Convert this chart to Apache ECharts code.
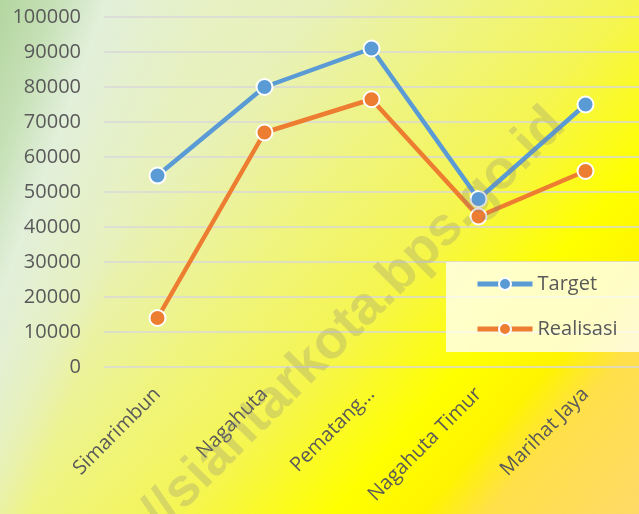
<!DOCTYPE html>
<html>
<head>
<meta charset="utf-8">
<title>Target vs Realisasi</title>
<script src="https://cdn.jsdelivr.net/npm/echarts@6/dist/echarts.min.js"></script>
<style>
  html, body { margin: 0; padding: 0; }
  #main { width: 639px; height: 514px; }
</style>
</head>
<body>
<div id="main"></div>
<script>
// data
var kelurahan = ["Simarimbun", "Nagahuta", "Pematang…", "Nagahuta Timur", "Marihat Jaya"];
var target = [54700, 80000, 91000, 48000, 75000];
var realisasi = [14000, 67000, 76500, 43000, 56000];
var yTicks = { min: 0, max: 100000, step: 10000 };

var labelFont = "'Open Sans', 'Noto Sans', sans-serif";
var textGrey = "#595959";

var chartDom = document.getElementById("main");
var myChart = echarts.init(chartDom);

var option = {
  animation: false,
  graphic: [
    {
      // base fill: light -> yellow -> orange, running to the bottom right
      type: "rect",
      z: -20,
      silent: true,
      shape: { x: 0, y: 0, width: 639, height: 514 },
      style: {
        fill: new echarts.graphic.LinearGradient(0, 0, 615, 541, [
          { offset: 0, color: "#e4f0d8" },
          { offset: 0.3, color: "#e8f1b8" },
          { offset: 0.45, color: "#eff47e" },
          { offset: 0.58, color: "#f5f552" },
          { offset: 0.72, color: "#ffff00" },
          { offset: 0.8, color: "#fff400" },
          { offset: 0.86, color: "#ffe04a" },
          { offset: 1, color: "#ffd966" }
        ], true)
      }
    },
    {
      // green patch down the top left edge
      type: "rect",
      z: -19,
      silent: true,
      shape: { x: 0, y: 0, width: 639, height: 514 },
      style: {
        fill: new echarts.graphic.LinearGradient(0, 0, 188, 67, [
          { offset: 0, color: "rgba(179,214,159,1)" },
          { offset: 0.25, color: "rgba(197,224,181,1)" },
          { offset: 0.5, color: "rgba(226,239,218,1)" },
          { offset: 0.75, color: "rgba(228,240,210,0.6)" },
          { offset: 1, color: "rgba(228,240,210,0)" }
        ], true)
      }
    },
    {
      // site watermark lying over the chart
      type: "text",
      z: 100,
      silent: true,
      x: 576,
      y: 136,
      rotation: 0.785,
      style: {
        text: "http://siantarkota.bps.go.id",
        font: "bold 54px 'Liberation Sans', Arial, sans-serif",
        fill: "rgba(128,128,128,0.25)",
        align: "right",
        verticalAlign: "bottom"
      }
    }
  ],
  grid: {
    left: 104,
    top: 17,
    width: 540,
    height: 350
  },
  legend: {
    orient: "vertical",
    left: 446,
    top: 262,
    padding: [12, 30, 13, 29],
    itemGap: 25,
    itemWidth: 55,
    itemHeight: 15,
    lineStyle: { width: 5 },
    backgroundColor: "rgba(255,255,240,0.82)",
    textStyle: {
      fontFamily: labelFont,
      fontSize: 20,
      lineHeight: 20,
      color: textGrey
    },
    data: ["Target", "Realisasi"]
  },
  xAxis: {
    type: "category",
    data: kelurahan,
    axisLine: { show: false },
    axisTick: { show: false },
    axisLabel: {
      interval: 0,
      rotate: 45,
      margin: 24,
      fontFamily: labelFont,
      fontSize: 20,
      color: textGrey
    }
  },
  yAxis: {
    type: "value",
    min: yTicks.min,
    max: yTicks.max,
    interval: yTicks.step,
    axisLine: { show: false },
    axisTick: { show: false },
    splitLine: { lineStyle: { color: "#d9d9d9", width: 1.5 } },
    axisLabel: {
      margin: 23,
      fontFamily: labelFont,
      fontSize: 20,
      color: textGrey,
      formatter: function (value) {
        return String(value);
      }
    }
  },
  series: [
    {
      name: "Target",
      type: "line",
      data: target,
      symbol: "circle",
      symbolSize: 16,
      lineStyle: { color: "#5b9bd5", width: 4.5 },
      itemStyle: { color: "#5b9bd5", borderColor: "#ffffff", borderWidth: 2 }
    },
    {
      name: "Realisasi",
      type: "line",
      data: realisasi,
      symbol: "circle",
      symbolSize: 16,
      lineStyle: { color: "#ed7d31", width: 4.5 },
      itemStyle: { color: "#ed7d31", borderColor: "#ffffff", borderWidth: 2 }
    }
  ]
};

myChart.setOption(option);
</script>
</body>
</html>
